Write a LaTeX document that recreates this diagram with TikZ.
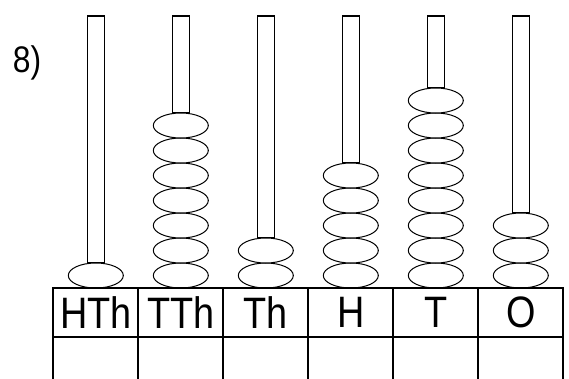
\documentclass[tikz,border=0pt]{standalone}
\usepackage{fontspec}
\setmainfont{Liberation Sans}
\usetikzlibrary{shapes.geometric}
\newcommand{\narrowtext}[1]{\scalebox{0.86}[1]{#1}}
\begin{document}
\begin{tikzpicture}[x=1pt,y=-1pt,
    bead/.style ={ellipse, draw, fill=white, line width=1pt, minimum width=55pt, minimum height=25pt, inner sep=0pt},
    rod/.style ={draw, fill=white, line width=1.1pt},
    cell/.style ={rectangle, draw, line width=1.8pt, minimum width=85pt, minimum height=49pt, inner sep=0pt, font=\fontsize{44}{44}\selectfont}]
   \clip (0,0) rectangle (569,378);
   \node (number) at (27,63) {\fontsize{37}{37}\selectfont\narrowtext{8)}};
   \foreach \name/\lab/\n [count=\i] in {hth/HTh/1, tth/TTh/7, th/Th/2, h/H/5, t/T/8, o/O/3} {
     \pgfmathsetmacro\cx{53.3+85*(\i-0.5)}
     \draw[rod] (\cx-8.75,16) rectangle (\cx+8.75,{288-25*\n});
     \foreach \k in {1,...,\n}
       \node[bead] (\name-\k) at (\cx,{275.5-25*(\k-1)}) {};
     \node[cell] (\name-top) at (\cx,312.5) {\narrowtext{\lab}};
     \node[cell] (\name-low) at (\cx,361.5) {};
   }
 \end{tikzpicture}
\end{document}
